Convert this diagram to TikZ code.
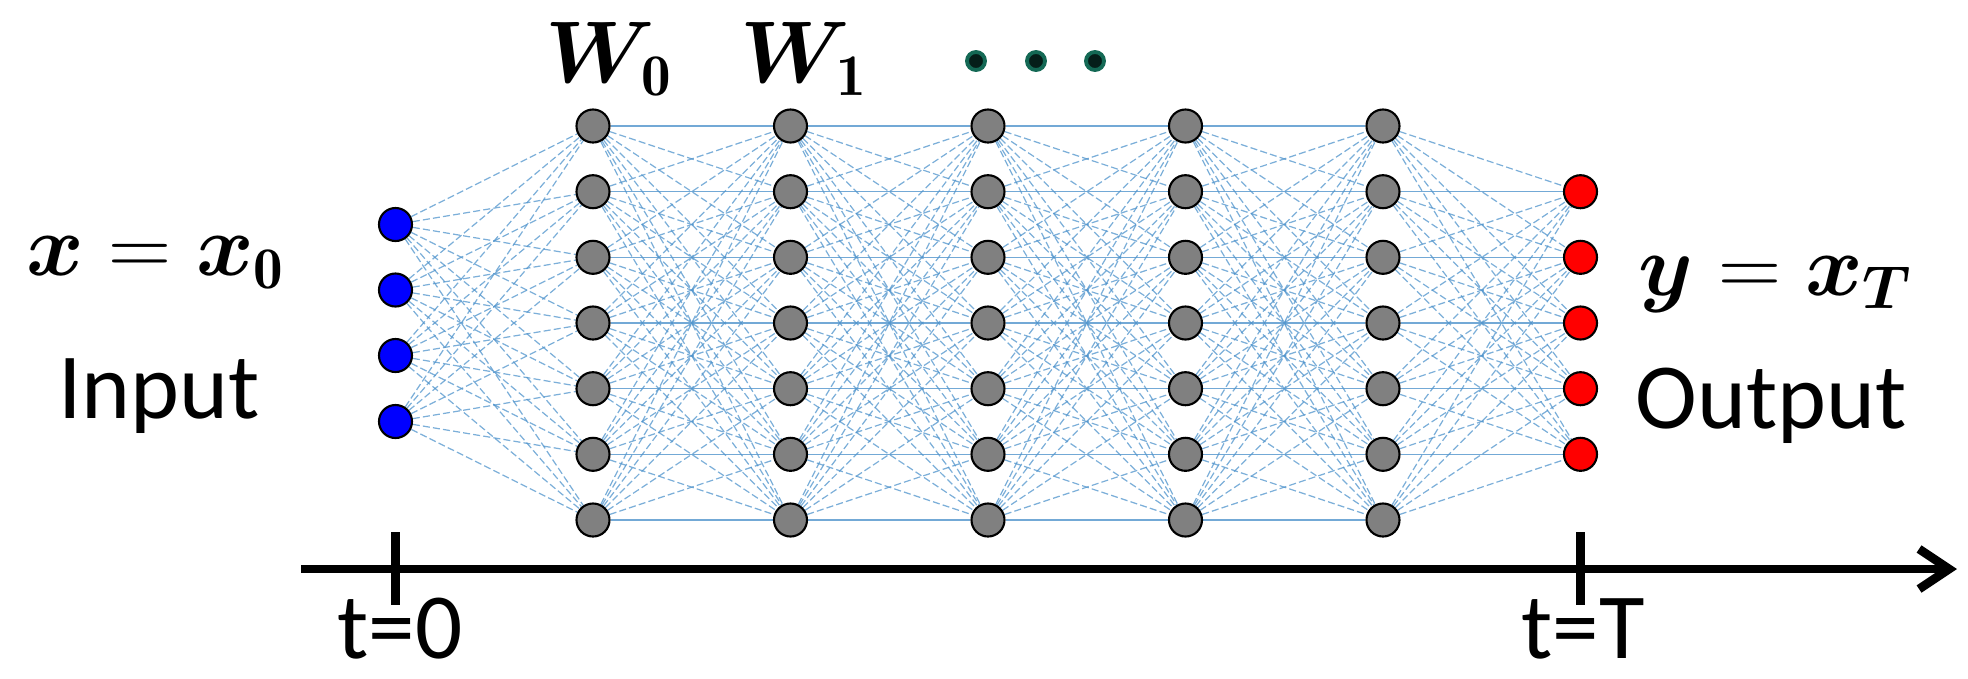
\documentclass[tikz,border=0pt]{standalone}
\usepackage{amsmath}
\usepackage{bm}
\usepackage{fontspec}
\setsansfont{Carlito}
\usetikzlibrary{arrows.meta}

\definecolor{hidgray}{RGB}{128,128,128}
\definecolor{wireblue}{RGB}{80,148,204}
\definecolor{dotcore}{RGB}{5,30,25}
\definecolor{dotring}{RGB}{20,105,85}

\pgfdeclarelayer{bg}
\pgfsetlayers{bg,main}

\begin{document}
\begin{tikzpicture}[x=0.01cm, y=-0.01cm,
  neuron/.style={circle, draw=black, line width=0.6pt, minimum size=0.33cm, inner sep=0pt},
  inneuron/.style={neuron, fill=blue},
  hidneuron/.style={neuron, fill=hidgray},
  outneuron/.style={neuron, fill=red},
  wire/.style={draw=wireblue, line width=0.35pt, dash pattern=on 2pt off 0.9pt, opacity=0.75},
  flat/.style={draw=wireblue, line width=0.4pt, solid, opacity=0.8},
  axisline/.style={draw=black, line width=2.5pt},
  word/.style={font=\sffamily\fontsize{26.5}{30}\selectfont, inner sep=0pt, anchor=base},
  formula/.style={font=\fontsize{24}{28}\selectfont, inner sep=0pt, anchor=base},
  ellipsisdot/.style={circle, fill=dotcore, draw=dotring, line width=1.1pt, minimum size=0.18cm, inner sep=0pt}
]
\useasboundingbox (0,0) rectangle (1968,678);

% input layer
\foreach \r [count=\k] in {224.5,290,355.5,421.5}
  \node[inneuron] (a-\k) at (395.5,\r) {};

% hidden layers
\foreach \c [count=\l] in {593,790.5,988,1185.5,1383}
  \foreach \r [count=\k] in {126,191.7,257.3,323,388.7,454.3,520}
    \node[hidneuron] (h\l-\k) at (\c,\r) {};

% output layer
\foreach \r [count=\k] in {191.7,257.3,323,388.7,454.3}
  \node[outneuron] (o-\k) at (1580.5,\r) {};

% connections
\begin{pgfonlayer}{bg}
  \foreach \p in {1,...,4}
    \foreach \q in {1,...,7}
      \draw[wire] (a-\p) -- (h1-\q);
  \foreach \l in {1,...,4}{
    \pgfmathtruncatemacro\nxt{\l+1}
    \foreach \p in {1,...,7}
      \foreach \q in {1,...,7}{
        \ifnum\p=\q
          \draw[flat] (h\l-\p) -- (h\nxt-\q);
        \else
          \draw[wire] (h\l-\p) -- (h\nxt-\q);
        \fi
      }
  }
  \foreach \p in {1,...,7}
    \foreach \q in {1,...,5}{
      \pgfmathtruncatemacro\rowq{\q+1}
      \ifnum\p=\rowq
        \draw[flat] (h5-\p) -- (o-\q);
      \else
        \draw[wire] (h5-\p) -- (o-\q);
      \fi
    }
\end{pgfonlayer}

% time axis with ticks
\coordinate (axstart) at (301,569);
\coordinate (axend) at (1957,569);
\draw[axisline, -{Straight Barb[length=0.3cm, width=0.4cm]}] (axstart) -- (axend);
\coordinate (tick0top) at (395.5,532);
\coordinate (tick0bot) at (395.5,605);
\coordinate (tickTtop) at (1580.5,532);
\coordinate (tickTbot) at (1580.5,605);
\draw[axisline] (tick0top) -- (tick0bot);
\draw[axisline] (tickTtop) -- (tickTbot);

% labels
\node[formula] (xlab) at (156,275) {$\bm{x} = \bm{x}_{\mathbf{0}}$};
\node[word] (inlab) at (159,418) {Input};
\node[formula] (ylab) at (1776,295) {$\bm{y} = \bm{x}_{\bm{T}}$};
\node[word] (outlab) at (1771,428) {Output};
\node[formula] (w0) at (609,82) {$\bm{W}_{\mathbf{0}}$};
\node[formula] (w1) at (804,82) {$\bm{W}_{\mathbf{1}}$};
\node[word] (t0) at (400,658) {t=0};
\node[word] (tT) at (1583,658) {t=T};

% ellipsis
\foreach \x [count=\k] in {976,1036,1095}
  \node[ellipsisdot] (dot\k) at (\x,61) {};
\end{tikzpicture}
\end{document}
